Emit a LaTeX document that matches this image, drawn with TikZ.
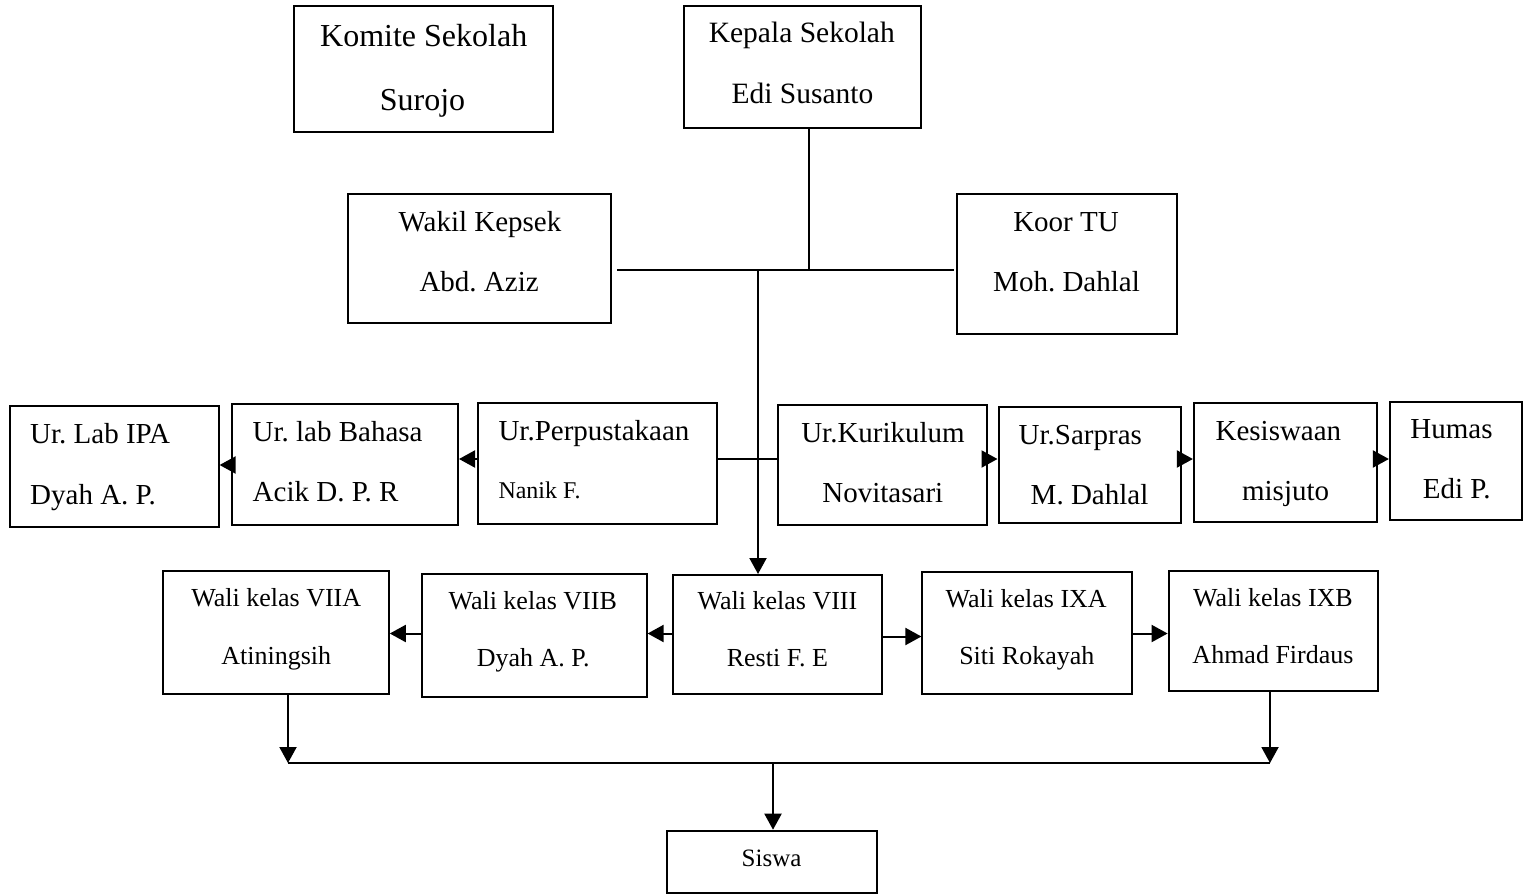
\documentclass[tikz,border=0pt]{standalone}
\usepackage{fontspec}
\setmainfont{Liberation Serif}
\usetikzlibrary{arrows.meta}
\frenchspacing
\newcommand\fsz[1]{\fontsize{#1}{#1}\selectfont}
\tikzset{
  bx/.style={draw, line width=2pt, inner sep=0pt, rectangle},
  ln/.style={line width=2pt},
  arr/.style={line width=2pt, -{Triangle[length=16pt,width=17pt]}},
  tx/.style={inner sep=0pt}
}
\newcommand\bx[5]{\node[bx, minimum width={(#4-#2)*1pt}, minimum height={(#5-#3)*1pt}] (#1) at ({(#2+#4)/2},{(#3+#5)/2}) {};}
\newcommand\tx[6]{\node[tx, anchor=#2, font=\fsz{#3}] (#1) at (#4,#5) {#6};}
\begin{document}
\begin{tikzpicture}[x=1pt,y=-1pt]
\useasboundingbox (0,0) rectangle (1525,894);
\fill[white] (0,0) rectangle (1525,894);
% boxes
\bx{kom}{294}{6}{553}{132}
\bx{kep}{683.5}{6}{921}{128}
\bx{wak}{348}{194}{610.6}{323.3}
\bx{koo}{957}{194}{1177}{334.3}
\bx{lab}{9.7}{406}{218.6}{526.7}
\bx{bah}{232.2}{404.3}{458}{525.3}
\bx{per}{477.5}{403.3}{717.4}{523.7}
\bx{kur}{777.7}{405}{987.4}{525}
\bx{sar}{998.5}{406.7}{1180.7}{523.3}
\bx{kes}{1193.9}{402.7}{1376.7}{521.7}
\bx{hum}{1389.9}{401.7}{1521.5}{520}
\bx{w7a}{163.4}{571}{388.8}{694.3}
\bx{w7b}{421.7}{574.3}{646.6}{697.3}
\bx{w8}{672.8}{575}{882.3}{694}
\bx{w9a}{922.4}{572.3}{1131.6}{694}
\bx{w9b}{1168.6}{571}{1378.3}{690.7}
\bx{sis}{666.7}{830.7}{876.5}{893.3}
% texts
\tx{kom1}{base}{32}{423.7}{46}{Komite Sekolah}
\tx{kom2}{base}{32}{422.5}{110}{Surojo}
\tx{kep1}{base}{29.5}{801.8}{42.7}{Kepala Sekolah}
\tx{kep2}{base}{29.5}{802.4}{103.3}{Edi Susanto}
\tx{wak1}{base}{29}{480}{231.7}{Wakil Kepsek}
\tx{wak2}{base}{29}{479.1}{291.7}{Abd. Aziz}
\tx{koo1}{base}{29}{1066}{231.7}{Koor TU}
\tx{koo2}{base}{29}{1066.5}{291.7}{Moh. Dahlal}
\tx{lab1}{base west}{29}{30}{443.3}{Ur. Lab IPA}
\tx{lab2}{base west}{29}{30}{504}{Dyah A. P.}
\tx{bah1}{base west}{29}{252.5}{441.7}{Ur. lab Bahasa}
\tx{bah2}{base west}{29}{252.5}{501.7}{Acik D. P. R}
\tx{per1}{base west}{29}{498.3}{440.7}{Ur.Perpustakaan}
\tx{per2}{base west}{24}{498.3}{498.3}{Nanik F.}
\tx{kur1}{base}{29}{883}{442.7}{Ur.Kurikulum}
\tx{kur2}{base}{29}{882.8}{502.7}{Novitasari}
\tx{sar1}{base west}{29}{1018.5}{444}{Ur.Sarpras}
\tx{sar2}{base}{29}{1089.5}{504.3}{M. Dahlal}
\tx{kes1}{base}{29}{1278.4}{440}{Kesiswaan}
\tx{kes2}{base}{29}{1285.6}{500}{misjuto}
\tx{hum1}{base}{29}{1451.5}{438.3}{Humas}
\tx{hum2}{base}{29}{1456.7}{498.3}{Edi P.}
\tx{w7a1}{base}{26}{276.3}{606}{Wali kelas VIIA}
\tx{w7a2}{base}{26}{276.3}{664}{Atiningsih}
\tx{w7b1}{base}{26}{532.7}{609.3}{Wali kelas VIIB}
\tx{w7b2}{base}{26}{533.2}{666.7}{Dyah A. P.}
\tx{w81}{base}{26}{777.5}{609}{Wali kelas VIII}
\tx{w82}{base}{26}{777.4}{666}{Resti F. E}
\tx{w9a1}{base}{26}{1026.2}{607.3}{Wali kelas IXA}
\tx{w9a2}{base}{26}{1026.8}{664}{Siti Rokayah}
\tx{w9b1}{base}{26}{1273}{606}{Wali kelas IXB}
\tx{w9b2}{base}{26}{1273}{663.3}{Ahmad Firdaus}
\tx{sis1}{base}{25}{771.6}{866}{Siswa}
% junction coordinates
\coordinate (kj) at (809.4,270);
\coordinate (hub) at (758,270);
\coordinate (hl) at (617,270);
\coordinate (hr) at (953.5,270);
\coordinate (j3) at (758,459);
\coordinate (j3b) at (0,465);
\coordinate (r4) at (0,633.5);
\coordinate (r4b) at (0,636.5);
\coordinate (b1) at (288,763);
\coordinate (b2) at (1270,763);
\coordinate (bm) at (773,763);
% connectors
\draw[ln] (kj |- kep.south) -- (kj);
\draw[ln] (hl) -- (hr);
\draw[arr] (hub) -- (hub |- w8.north);
\draw[ln] (per.east |- j3) -- (kur.west |- j3);
\draw[arr] (per.west |- j3) -- (bah.east |- j3);
\draw[arr] (bah.west |- j3b) -- (lab.east |- j3b);
\draw[arr] (kur.east |- j3) -- (sar.west |- j3);
\draw[arr] (sar.east |- j3) -- (kes.west |- j3);
\draw[arr] (kes.east |- j3) -- (hum.west |- j3);
\draw[arr] (w8.west |- r4) -- (w7b.east |- r4);
\draw[arr] (w7b.west |- r4) -- (w7a.east |- r4);
\draw[arr] (w8.east |- r4b) -- (w9a.west |- r4b);
\draw[arr] (w9a.east |- r4) -- (w9b.west |- r4);
\draw[arr] (b1 |- w7a.south) -- (b1);
\draw[arr] (b2 |- w9b.south) -- (b2);
\draw[ln] (b1) -- (b2);
\draw[arr] (bm) -- (bm |- sis.north);
\end{tikzpicture}
\end{document}
